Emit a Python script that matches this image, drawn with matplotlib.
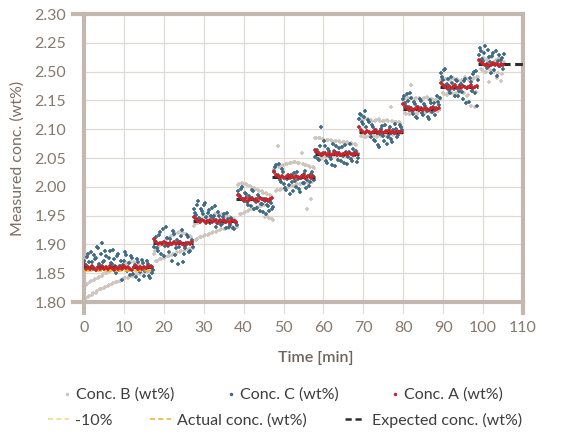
import numpy as np
import matplotlib
matplotlib.use("Agg")
import matplotlib.pyplot as plt
from matplotlib.lines import Line2D

plt.rcParams["font.family"] = ["Lato", "DejaVu Sans"]

# step plateaus of the expected concentration (wt%)
stepStart = [0, 17.2, 27.3, 38.2, 47.2, 57.9, 68.9, 79.9, 89.2, 98.8]
stepEnd = [17.2, 27.3, 38.2, 47.2, 57.9, 68.9, 79.9, 89.2, 98.8, 110]
expected = [1.860, 1.902, 1.940, 1.978, 2.017, 2.057, 2.095, 2.135, 2.173, 2.213]
actual = [1.855]      # only known for the first step
minus10 = [1.674]     # -10% of first step, below the visible range

# measured samples, one every 0.5 min, first sample time per step
# (the *2 lists are the readings taken 0.25 min later)
sampleStart = [0, 17.5, 27.5, 38.5, 47.5, 58, 69, 80, 89.5, 99]
dt = 0.5

concB = [
    [1.803, 1.829, 1.808, 1.834, 1.813, 1.838, 1.816, 1.842, 1.822, 1.846, 1.824, 1.850, 1.827, 1.853, 1.832, 1.857, 1.834,
     1.861, 1.836, 1.863, 1.841, 1.866, 1.842, 1.869, 1.845, 1.870, 1.848, 1.866, 1.849, 1.862, 1.851, 1.858, 1.852, 1.855, 1.853],
    [1.884, 1.871, 1.893, 1.874, 1.901, 1.877, 1.908, 1.879, 1.913, 1.882, 1.917, 1.884, 1.920, 1.887, 1.921, 1.889, 1.918, 1.891, 1.915, 1.893],
    [1.932, 1.908, 1.938, 1.912, 1.942, 1.915, 1.946, 1.917, 1.949, 1.920, 1.951, 1.922, 1.953, 1.925, 1.952, 1.927, 1.950, 1.928, 1.947, 1.929, 1.944, 1.930],
    [2.003, 1.952, 2.006, 1.955, 2.004, 1.958, 2.001, 1.961, 1.998, 1.963, 1.995, 1.966, 1.992, 1.968, 1.989, 1.947, 1.986, 1.944],
    [2.031, 1.992, 2.071, 1.995, 2.036, 1.997, 2.039, 1.999, 2.041, 2.001, 2.043, 2.003, 2.042, 2.004, 2.058, 2.005, 2.038, 1.962, 2.036, 1.978, 2.034],
    [2.084, 2.052, 2.085, 2.049, 2.083, 2.053, 2.082, 2.051, 2.081, 2.054, 2.080, 2.052, 2.079, 2.055, 2.078, 2.053, 2.077, 2.056, 2.076, 2.054, 2.074, 2.057],
    [2.117, 2.089, 2.119, 2.086, 2.118, 2.088, 2.116, 2.090, 2.115, 2.087, 2.117, 2.089, 2.114, 2.091, 2.116, 2.088, 2.138, 2.090, 2.113, 2.092, 2.112, 2.093],
    [2.151, 2.128, 2.154, 2.126, 2.176, 2.129, 2.153, 2.127, 2.155, 2.130, 2.152, 2.128, 2.156, 2.131, 2.153, 2.129, 2.150, 2.132, 2.154],
    [2.186, 2.162, 2.188, 2.160, 2.185, 2.164, 2.189, 2.161, 2.187, 2.165, 2.184, 2.163, 2.190, 2.158, 2.186, 2.141, 2.188, 2.139, 2.191],
    [2.218, 2.204, 2.224, 2.199, 2.221, 2.182, 2.226, 2.201, 2.219, 2.189, 2.223, 2.183, 2.215],
]
concB2 = [
    [1.806, 1.832, 1.810, 1.836, 1.815, 1.840, 1.819, 1.844, 1.823, 1.848, 1.826, 1.851, 1.830, 1.855, 1.833, 1.859, 1.835,
     1.862, 1.839, 1.864, 1.841, 1.867, 1.844, 1.869, 1.846, 1.868, 1.848, 1.864, 1.850, 1.860, 1.852, 1.857, 1.853, 1.854, 1.856],
    [1.889, 1.872, 1.897, 1.875, 1.905, 1.878, 1.911, 1.880, 1.915, 1.883, 1.919, 1.886, 1.921, 1.888, 1.920, 1.890, 1.916, 1.892, 1.913, 1.894],
    [1.935, 1.910, 1.940, 1.913, 1.944, 1.916, 1.948, 1.918, 1.950, 1.921, 1.952, 1.924, 1.953, 1.926, 1.951, 1.927, 1.949, 1.929, 1.945, 1.930, 1.942, 1.931],
    [2.005, 1.953, 2.005, 1.956, 2.003, 1.960, 2.000, 1.962, 1.996, 1.965, 1.993, 1.967, 1.990, 1.948, 1.987, 1.946, 1.984, 1.943],
    [2.033, 1.994, 2.035, 1.996, 2.038, 1.998, 2.040, 2.000, 2.042, 2.002, 2.043, 2.004, 2.041, 2.005, 2.039, 2.006, 2.037, 2.007, 2.035, 2.008, 2.033],
    [2.085, 2.051, 2.084, 2.050, 2.082, 2.052, 2.081, 2.053, 2.080, 2.055, 2.079, 2.054, 2.078, 2.056, 2.077, 2.054, 2.076, 2.057, 2.075, 2.055, 2.073, 2.058],
    [2.118, 2.088, 2.118, 2.087, 2.117, 2.089, 2.115, 2.088, 2.116, 2.090, 2.115, 2.090, 2.115, 2.089, 2.114, 2.091, 2.114, 2.092, 2.112, 2.093, 2.111, 2.094],
    [2.153, 2.127, 2.155, 2.127, 2.154, 2.128, 2.154, 2.129, 2.153, 2.129, 2.154, 2.130, 2.155, 2.130, 2.152, 2.131, 2.151, 2.131, 2.152],
    [2.187, 2.161, 2.187, 2.162, 2.186, 2.163, 2.188, 2.163, 2.186, 2.164, 2.185, 2.162, 2.189, 2.160, 2.187, 2.166, 2.189, 2.165, 2.190],
    [2.220, 2.202, 2.223, 2.200, 2.222, 2.203, 2.225, 2.200, 2.220, 2.198, 2.222, 2.196, 2.217],
]

concC = [
    [1.872, 1.865, 1.884, 1.858, 1.869, 1.881, 1.876, 1.893, 1.862, 1.903, 1.871, 1.879, 1.856, 1.888, 1.866, 1.874, 1.850, 1.884,
     1.862, 1.839, 1.871, 1.882, 1.858, 1.847, 1.876, 1.861, 1.843, 1.869, 1.852, 1.873, 1.846, 1.858, 1.866, 1.842, 1.851],
    [1.895, 1.912, 1.888, 1.921, 1.903, 1.879, 1.931, 1.897, 1.909, 1.872, 1.918, 1.893, 1.866, 1.905, 1.925, 1.884, 1.899, 1.913, 1.889, 1.907],
    [1.962, 1.951, 1.975, 1.944, 1.958, 1.969, 1.947, 1.955, 1.938, 1.964, 1.949, 1.931, 1.957, 1.942, 1.936, 1.952, 1.928, 1.944, 1.933, 1.941, 1.926, 1.937],
    [1.992, 1.984, 1.999, 1.976, 1.988, 1.968, 1.981, 1.995, 1.962, 1.974, 1.986, 1.958, 1.971, 1.979, 1.953, 1.966, 1.975, 1.961],
    [2.028, 2.038, 2.021, 2.012, 2.031, 2.004, 1.995, 2.016, 1.987, 2.008, 2.024, 1.999, 2.013, 1.991, 2.019, 2.006, 2.027, 2.011, 2.002, 2.022, 2.014],
    [2.052, 2.064, 2.046, 2.103, 2.058, 2.071, 2.041, 2.062, 2.049, 2.075, 2.036, 2.058, 2.067, 2.044, 2.053, 2.072, 2.039, 2.061, 2.048, 2.066, 2.055, 2.043],
    [2.118, 2.124, 2.109, 2.131, 2.097, 2.112, 2.086, 2.103, 2.079, 2.094, 2.069, 2.101, 2.088, 2.107, 2.074, 2.092, 2.083, 2.099, 2.109, 2.086, 2.096, 2.104],
    [2.152, 2.146, 2.161, 2.138, 2.155, 2.127, 2.143, 2.119, 2.134, 2.149, 2.124, 2.141, 2.131, 2.117, 2.146, 2.137, 2.125, 2.158, 2.142],
    [2.198, 2.186, 2.205, 2.179, 2.168, 2.191, 2.174, 2.157, 2.183, 2.166, 2.178, 2.152, 2.187, 2.171, 2.148, 2.182, 2.195, 2.163, 2.141],
    [2.228, 2.236, 2.219, 2.244, 2.207, 2.226, 2.198, 2.232, 2.214, 2.193, 2.229, 2.221, 2.205],
]
concC2 = [
    [1.861, 1.878, 1.869, 1.887, 1.857, 1.874, 1.896, 1.866, 1.883, 1.870, 1.889, 1.859, 1.877, 1.867, 1.891, 1.863, 1.880, 1.855,
     1.872, 1.865, 1.886, 1.853, 1.868, 1.879, 1.849, 1.864, 1.874, 1.838, 1.859, 1.868, 1.853, 1.871, 1.845, 1.862, 1.856],
    [1.906, 1.893, 1.916, 1.884, 1.927, 1.898, 1.911, 1.886, 1.901, 1.923, 1.881, 1.908, 1.896, 1.915, 1.870, 1.894, 1.917, 1.886, 1.904, 1.895],
    [1.955, 1.968, 1.946, 1.961, 1.952, 1.972, 1.940, 1.959, 1.949, 1.945, 1.966, 1.938, 1.950, 1.934, 1.947, 1.939, 1.955, 1.931, 1.946, 1.929, 1.940, 1.934],
    [1.985, 1.996, 1.979, 1.990, 1.973, 1.984, 1.967, 1.992, 1.977, 1.964, 1.983, 1.970, 1.956, 1.976, 1.969, 1.958, 1.972, 1.965],
    [2.034, 2.019, 2.040, 2.008, 2.025, 1.998, 2.014, 2.003, 2.021, 1.993, 2.010, 2.026, 1.996, 2.015, 2.007, 2.023, 1.998, 2.018, 2.009, 2.025, 2.012],
    [2.061, 2.048, 2.070, 2.056, 2.079, 2.045, 2.066, 2.052, 2.038, 2.063, 2.071, 2.047, 2.055, 2.069, 2.042, 2.060, 2.051, 2.074, 2.045, 2.058, 2.063, 2.050],
    [2.127, 2.113, 2.121, 2.104, 2.116, 2.093, 2.108, 2.082, 2.098, 2.073, 2.091, 2.105, 2.079, 2.097, 2.087, 2.103, 2.077, 2.094, 2.101, 2.090, 2.108, 2.099],
    [2.158, 2.141, 2.149, 2.163, 2.131, 2.147, 2.122, 2.139, 2.153, 2.128, 2.144, 2.135, 2.121, 2.150, 2.129, 2.145, 2.136, 2.148, 2.155],
    [2.191, 2.203, 2.177, 2.188, 2.162, 2.181, 2.169, 2.185, 2.158, 2.176, 2.164, 2.184, 2.146, 2.174, 2.189, 2.167, 2.199, 2.201, 2.186],
    [2.241, 2.222, 2.233, 2.212, 2.238, 2.217, 2.227, 2.203, 2.236, 2.218, 2.209, 2.224, 2.231],
]

concA = [
    [1.866, 1.858, 1.861, 1.857, 1.862, 1.859, 1.856, 1.861, 1.858, 1.863, 1.857, 1.860, 1.858, 1.862, 1.859, 1.856, 1.861, 1.858,
     1.860, 1.857, 1.862, 1.859, 1.861, 1.858, 1.856, 1.860, 1.862, 1.858, 1.860, 1.857, 1.861, 1.859, 1.862, 1.860, 1.861],
    [1.909, 1.905, 1.901, 1.903, 1.900, 1.904, 1.902, 1.899, 1.903, 1.901, 1.904, 1.900, 1.902, 1.905, 1.901, 1.899, 1.903, 1.902, 1.900, 1.904],
    [1.948, 1.944, 1.941, 1.939, 1.942, 1.940, 1.938, 1.941, 1.943, 1.939, 1.940, 1.942, 1.938, 1.941, 1.940, 1.943, 1.939, 1.941, 1.938, 1.942, 1.940, 1.939],
    [1.986, 1.982, 1.979, 1.977, 1.980, 1.976, 1.978, 1.981, 1.977, 1.979, 1.976, 1.980, 1.978, 1.977, 1.979, 1.976, 1.978, 1.980],
    [2.026, 2.021, 2.018, 2.016, 2.019, 2.015, 2.017, 2.020, 2.016, 2.018, 2.015, 2.019, 2.017, 2.016, 2.018, 2.020, 2.015, 2.017, 2.019, 2.016, 2.018],
    [2.064, 2.060, 2.058, 2.055, 2.057, 2.059, 2.056, 2.058, 2.055, 2.057, 2.060, 2.056, 2.058, 2.055, 2.057, 2.059, 2.056, 2.058, 2.057, 2.055, 2.059, 2.057],
    [2.103, 2.099, 2.096, 2.094, 2.097, 2.095, 2.093, 2.096, 2.098, 2.094, 2.095, 2.097, 2.093, 2.096, 2.095, 2.098, 2.094, 2.096, 2.093, 2.097, 2.095, 2.096],
    [2.143, 2.138, 2.136, 2.134, 2.137, 2.133, 2.135, 2.138, 2.134, 2.136, 2.133, 2.137, 2.135, 2.134, 2.136, 2.138, 2.133, 2.135, 2.136],
    [2.181, 2.177, 2.174, 2.172, 2.175, 2.171, 2.173, 2.176, 2.172, 2.174, 2.171, 2.175, 2.173, 2.172, 2.174, 2.176, 2.171, 2.173, 2.175],
    [2.221, 2.216, 2.213, 2.211, 2.214, 2.210, 2.212, 2.215, 2.211, 2.213, 2.210, 2.214, 2.212],
]

yTicks = [1.80, 1.85, 1.90, 1.95, 2.00, 2.05, 2.10, 2.15, 2.20, 2.25, 2.30]
yTickLabels = ["1.80", "1.85", "1.90", "1.95", "2.00", "2.05", "2.10", "2.15", "2.50", "2.25", "2.30"]
xTicks = [0, 10, 20, 30, 40, 50, 60, 70, 80, 90, 100, 110]

colB = "#cec5be"
colC = "#3f6b84"
colA = "#c8242b"
colExp = "#2e2e2e"
colAct = "#f2b630"
colMinus = "#f8da86"
frameCol = "#c2b8b0"
gridCol = "#dedad6"
tickCol = "#86796f"


def flatten(blocks, offset=0.0):
    t, v = [], []
    for t0, vals in zip(sampleStart, blocks):
        t.extend(t0 + offset + dt * np.arange(len(vals)))
        v.extend(vals)
    return np.array(t), np.array(v)


tB, vB = flatten(concB)
tB2, vB2 = flatten(concB2, 0.25)
tC, vC = flatten(concC)
tC2, vC2 = flatten(concC2, 0.25)
tA, vA = flatten(concA)

fig = plt.figure(figsize=(5.69, 4.37), dpi=100)
ax = fig.add_axes([84 / 569, 1 - 302 / 437, (523 - 84) / 569, (302 - 14) / 437])

markerKw = dict(ls="none", marker="+", ms=3.5, mew=1.2)
ax.plot(np.r_[tB, tB2], np.r_[vB, vB2], color=colB, zorder=2, **markerKw)
ax.plot(np.r_[tC, tC2], np.r_[vC, vC2], color=colC, zorder=3, **markerKw)
for s, e, lvl in zip(stepStart, stepEnd, expected):
    ax.plot([s, e], [lvl, lvl], color=colExp, lw=2.2, ls=(0, (2.5, 1.5)), zorder=4)
ax.plot(tA, vA, color=colA, zorder=5, **markerKw)
ax.plot([stepStart[0], stepEnd[0] - 1], [actual[0], actual[0]], color=colAct, lw=1.8, ls=(0, (3, 1)), zorder=4.5)
ax.plot([stepStart[0], stepEnd[0]], [minus10[0], minus10[0]], color=colMinus, lw=1.2, ls=(0, (3, 2)))

ax.set_xlim(0, 110)
ax.set_ylim(1.8, 2.3)
ax.set_xticks(xTicks)
ax.set_yticks(yTicks)
ax.set_yticklabels(yTickLabels)
ax.grid(color=gridCol, lw=0.9)
ax.set_axisbelow(True)

for name in ["left", "right", "top", "bottom"]:
    ax.spines[name].set_color(frameCol)
    ax.spines[name].set_linewidth(3)
ax.spines["left"].set_bounds(1.781, 2.30)
ax.spines["right"].set_bounds(1.781, 2.30)
ax.spines["top"].set_bounds(-2.76, 110)
ax.spines["bottom"].set_bounds(-2.76, 110)

ax.tick_params(axis="x", length=8, width=0.9, color=gridCol, pad=6, labelsize=11.5, labelcolor=tickCol)
ax.tick_params(axis="y", length=0, pad=13, labelsize=11.5, labelcolor=tickCol)

ax.set_xlabel("Time [min]", fontsize=11.5, color="#6f645d", fontweight="semibold")
ax.xaxis.set_label_coords(0.528, -0.17)
ax.set_ylabel("Measured conc. (wt%)", fontsize=11.5, color="#7a6e66")
ax.yaxis.set_label_coords(-0.134, 0.497)

handles1 = [
    Line2D([], [], ls="none", marker=".", ms=3, color=colB),
    Line2D([], [], ls="none", marker=".", ms=3, color=colC),
    Line2D([], [], ls="none", marker=".", ms=3, color=colA),
]
leg1 = fig.legend(handles1, ["Conc. B (wt%)", "Conc. C (wt%)", "Conc. A (wt%)"], ncol=3,
                  loc="center left", bbox_to_anchor=(64 / 569, 1 - 395 / 437), frameon=False,
                  handlelength=0.4, handletextpad=0.35, columnspacing=3.35, borderpad=0,
                  borderaxespad=0, fontsize=11.5, labelcolor="#3d3d3d")

handles2 = [
    Line2D([], [], color=colMinus, lw=1.2, ls=(0, (3, 2))),
    Line2D([], [], color=colAct, lw=1.2, ls=(0, (3, 2))),
    Line2D([], [], color=colExp, lw=1.8, ls=(0, (2.5, 1.5))),
]
leg2 = fig.legend(handles2, ["-10%", "Actual conc. (wt%)", "Expected conc. (wt%)"], ncol=3,
                  loc="center left", bbox_to_anchor=(48 / 569, 1 - 420 / 437), frameon=False,
                  handlelength=1.3, handletextpad=0.4, columnspacing=2.35, borderpad=0,
                  borderaxespad=0, fontsize=11.5, labelcolor="#3d3d3d")

fig.savefig("out.png", dpi=100)
